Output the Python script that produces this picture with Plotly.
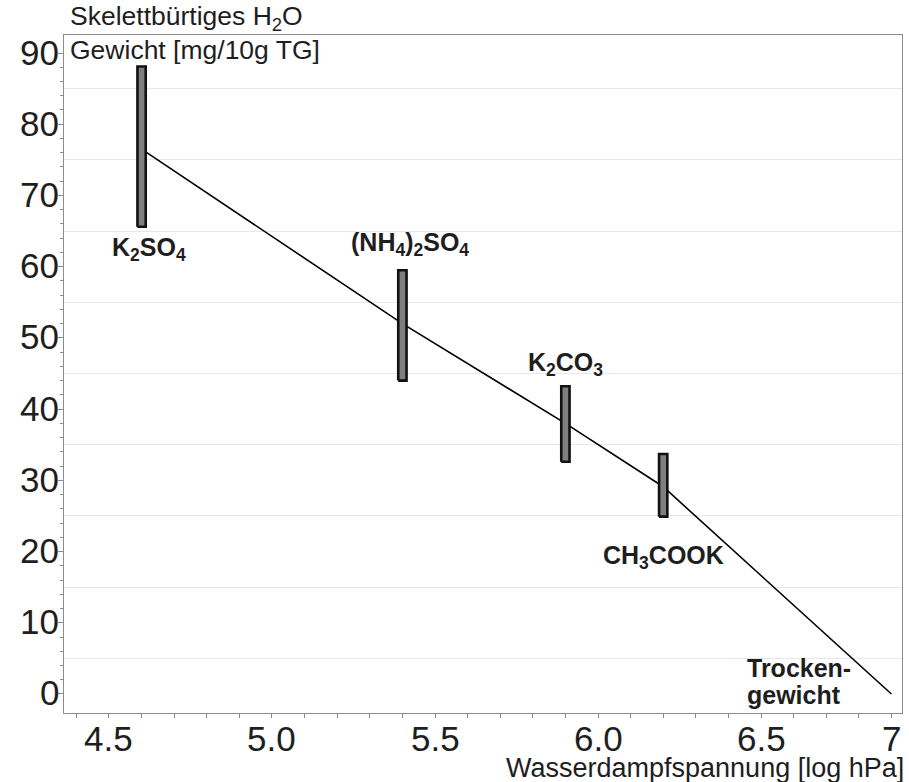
import plotly.graph_objects as go

# ---- data ----
salt_names = ["K<sub>2</sub>SO<sub>4</sub>", "(NH<sub>4</sub>)<sub>2</sub>SO<sub>4</sub>",
              "K<sub>2</sub>CO<sub>3</sub>", "CH<sub>3</sub>COOK"]
salt_x = [4.6, 5.4, 5.9, 6.2]
range_low = [65.6, 44.0, 32.6, 24.9]
range_high = [88.1, 59.5, 43.2, 33.7]

curve_x = [4.6, 5.4, 5.9, 6.2, 6.9]
curve_y = [76.5, 52.0, 38.0, 29.1, 0.0]
dry_label_lines = ["Trocken-", "gewicht"]

x_tick_vals = [4.5, 5.0, 5.5, 6.0, 6.5, 6.9]
x_tick_text = ["4.5", "5.0", "5.5", "6.0", "6.5", "7"]
y_tick_vals = [0, 10, 20, 30, 40, 50, 60, 70, 80, 90]
y_tick_text = ["0", "10", "20", "30", "40", "50", "60", "70", "80", "90"]
grid_vals = [5, 15, 25, 35, 45, 55, 65, 75, 85]

# ---- styling ----
FONT = "Liberation Sans, Arial, sans-serif"
TXT = "#1e1e1e"
AX = "#8c8c8c"
half_w = 0.0127  # half bar width in axis units
# (position, xshift, yshift) of each salt label
label_pos = [("below", 7, -4), ("above", 8, 8), ("above", 0, 4), ("below", 0, -22)]

fig = go.Figure()

# connecting line (drawn first so the bars sit on top)
fig.add_trace(go.Scatter(x=curve_x, y=curve_y, mode="lines",
                         line=dict(color="black", width=1.6),
                         hoverinfo="skip", showlegend=False))

# range bars as filled rectangles
for xc, lo, hi in zip(salt_x, range_low, range_high):
    fig.add_trace(go.Scatter(
        x=[xc - half_w, xc + half_w, xc + half_w, xc - half_w, xc - half_w],
        y=[lo, lo, hi, hi, lo],
        mode="lines", fill="toself", fillcolor="#7f7f7f",
        line=dict(color="#111111", width=2.6),
        hoverinfo="skip", showlegend=False))

# invisible trace for the gridline axis
fig.add_trace(go.Scatter(x=[curve_x[0]], y=[curve_y[0]], yaxis="y2",
                         mode="markers", marker=dict(opacity=0),
                         hoverinfo="skip", showlegend=False))

annotations = []
for name, xc, lo, hi, (pos, xs, ys) in zip(salt_names, salt_x, range_low, range_high, label_pos):
    annotations.append(dict(
        x=xc, y=lo if pos == "below" else hi, xref="x", yref="y",
        text="<b>" + name + "</b>", showarrow=False,
        yanchor="top" if pos == "below" else "bottom", yshift=ys, xshift=xs,
        xanchor="center", font=dict(family=FONT, size=25, color=TXT)))

for i, line in enumerate(dry_label_lines):
    annotations.append(dict(
        x=curve_x[-1], y=curve_y[-1], xref="x", yref="y",
        text="<b>" + line + "</b>", showarrow=False, align="left",
        xanchor="left", yanchor="middle", xshift=-146, yshift=26 - 27 * i,
        font=dict(family=FONT, size=25, color=TXT)))

# tick labels (placed as text at the axis tick positions)
for v, t in zip(x_tick_vals, x_tick_text):
    annotations.append(dict(x=v, y=0, xref="x", yref="paper", text=t,
                            showarrow=False, xanchor="center", yanchor="middle",
                            yshift=-25, font=dict(family=FONT, size=35, color=TXT)))
for v, t in zip(y_tick_vals, y_tick_text):
    annotations.append(dict(x=0, y=v, xref="paper", yref="y", text=t,
                            showarrow=False, xanchor="right", yanchor="middle",
                            xshift=-3, yshift=1,
                            font=dict(family=FONT, size=35, color=TXT)))

# axis titles
annotations.append(dict(x=0.0045, y=1.0, xref="paper", yref="paper",
                        text="Skelettbürtiges H<sub>2</sub>O", showarrow=False,
                        xanchor="left", yanchor="bottom", yshift=-2,
                        font=dict(family=FONT, size=26.5, color=TXT)))
annotations.append(dict(x=0.0045, y=1.0, xref="paper", yref="paper",
                        text="Gewicht [mg/10g TG]", showarrow=False,
                        xanchor="left", yanchor="top", yshift=2,
                        font=dict(family=FONT, size=26.5, color=TXT)))
annotations.append(dict(x=1.0, y=0, xref="paper", yref="paper",
                        text="Wasserdampfspannung [log hPa]", showarrow=False,
                        xanchor="right", yanchor="top", yshift=-38, xshift=4,
                        font=dict(family=FONT, size=27, color=TXT)))

fig.update_layout(
    width=909, height=782, autosize=False,
    margin=dict(l=64, r=7, t=35, b=69),
    plot_bgcolor="white", paper_bgcolor="white",
    showlegend=False,
    annotations=annotations,
    xaxis=dict(range=[4.362, 6.9325], tickmode="array",
               tickvals=x_tick_vals, showticklabels=False,
               ticks="outside", ticklen=4, tickcolor=AX, tickwidth=1,
               minor=dict(tickmode="linear", tick0=4.4, dtick=0.1,
                          ticks="outside", ticklen=4, tickcolor=AX),
               showline=True, linecolor=AX, linewidth=1, mirror=True,
               showgrid=False, zeroline=False),
    yaxis=dict(range=[-2.67, 92.53], tickmode="array", tickvals=y_tick_vals,
               showticklabels=False,
               ticks="outside", ticklen=5, tickcolor=AX, tickwidth=1,
               minor=dict(tickmode="array", tickvals=list(range(0, 91, 2)),
                          ticks="outside", ticklen=3, tickcolor=AX),
               showline=True, linecolor=AX, linewidth=1, mirror=True,
               showgrid=False, zeroline=False),
    yaxis2=dict(range=[-2.67, 92.53], overlaying="y", side="left",
                tickmode="array", tickvals=grid_vals, showticklabels=False,
                ticks="", showgrid=True, gridcolor="#e8e8e8", gridwidth=1,
                showline=False, zeroline=False),
)

fig.write_html("out.html")
